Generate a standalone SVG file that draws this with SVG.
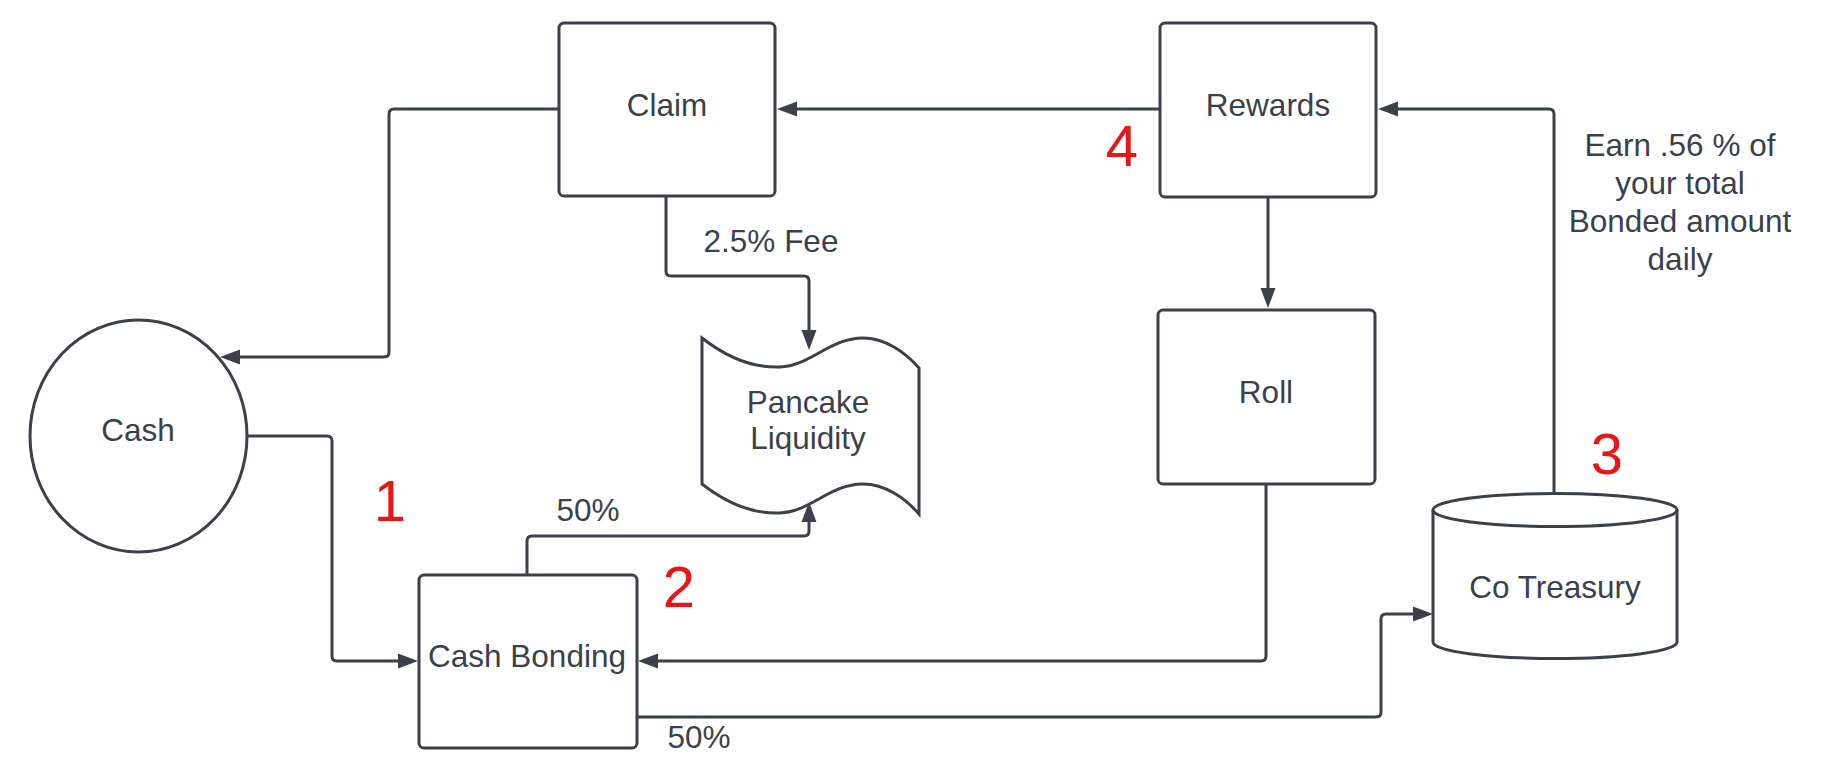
<svg xmlns="http://www.w3.org/2000/svg" width="1838" height="757" viewBox="0 0 1838 757">
<defs>
<style>
.shape{fill:#ffffff;stroke:#3a414a;stroke-width:3;}
.conn{fill:none;stroke:#3a414a;stroke-width:3;stroke-linejoin:round;marker-end:url(#arr);}
.line{fill:none;stroke:#3a414a;stroke-width:3;stroke-linejoin:round;}
.lbl{font-family:"Liberation Sans",Arial,sans-serif;font-size:31.5px;fill:#3a414a;text-anchor:middle;}
.num{font-family:"Liberation Sans",Arial,sans-serif;font-size:58px;fill:#e81416;text-anchor:middle;}
</style>
<marker id="arr" markerUnits="userSpaceOnUse" markerWidth="22" markerHeight="17" viewBox="0 0 22 17" refX="15" refY="8.5" orient="auto">
<path d="M1,1 L21,8.5 L1,16 Z" fill="#3a414a"/>
</marker>
</defs>
<rect width="1838" height="757" fill="#ffffff"/>

<g id="connectors">
<path class="conn" d="M558,109 L394,109 Q389,109 389,114 L389,352 Q389,357 384,357 L226,357"/>
<path class="conn" d="M1159,109 L783,109"/>
<path class="conn" d="M666,196 L666,271 Q666,276 671,276 L804,276 Q809,276 809,281 L809,344"/>
<path class="conn" d="M247,436 L327,436 Q332,436 332,441 L332,656 Q332,661 337,661 L412,661"/>
<path class="conn" d="M527,575 L527,541 Q527,536 532,536 L804,536 Q809,536 809,531 L809,508"/>
<path class="conn" d="M1266,484 L1266,656 Q1266,661 1261,661 L644,661"/>
<path class="conn" d="M636,717 L1376,717 Q1381,717 1381,712 L1381,619 Q1381,614 1386,614 L1427,614"/>
<path class="conn" d="M1554,493 L1554,114 Q1554,109 1549,109 L1384,109"/>
<path class="conn" d="M1268,197 L1268,302"/>
</g>

<g id="claim">
<rect class="shape" x="559" y="23" width="216" height="173" rx="5"/>
<text class="lbl" x="667" y="116">Claim</text>
</g>
<g id="rewards">
<rect class="shape" x="1160" y="23" width="216" height="174" rx="5"/>
<text class="lbl" x="1268" y="116">Rewards</text>
</g>
<g id="roll">
<rect class="shape" x="1158" y="310" width="217" height="174" rx="5"/>
<text class="lbl" x="1266" y="403">Roll</text>
</g>
<g id="cash">
<ellipse class="shape" cx="138.5" cy="436" rx="108.5" ry="116"/>
<text class="lbl" x="138" y="441">Cash</text>
</g>
<g id="cash-bonding">
<rect class="shape" x="419" y="575" width="218" height="173" rx="5"/>
<text class="lbl" x="527" y="667">Cash Bonding</text>
</g>
<g id="pancake-liquidity">
<path class="shape" d="M702,338 C730,360 755,368 780,367 C810,366 830,338 863,338 C885,338 905,352 919,368 L919,514 C905,498 885,484 863,484 C830,484 810,512 780,513 C755,514 730,506 702,484 Z"/>
<text class="lbl" x="808" y="413">Pancake</text>
<text class="lbl" x="808" y="449">Liquidity</text>
</g>
<g id="co-treasury">
<path class="shape" d="M1433,510 L1433,642 A122,16.5 0 0 0 1677,642 L1677,510 A122,16.5 0 0 0 1433,510 Z"/>
<path class="line" d="M1433,510 A122,16.5 0 0 0 1677,510"/>
<text class="lbl" x="1555" y="598">Co Treasury</text>
</g>

<g id="labels">
<text class="lbl" x="771" y="252">2.5% Fee</text>
<text class="lbl" x="588" y="521">50%</text>
<text class="lbl" x="699" y="748">50%</text>
<text class="lbl" x="1680" y="156">Earn .56 % of</text>
<text class="lbl" x="1680" y="194">your total</text>
<text class="lbl" x="1680" y="232">Bonded amount</text>
<text class="lbl" x="1680" y="270">daily</text>
</g>

<g id="step-numbers">
<text class="num" x="390" y="521">1</text>
<text class="num" x="679" y="607">2</text>
<text class="num" x="1607" y="474">3</text>
<text class="num" x="1122" y="166">4</text>
</g>
</svg>
